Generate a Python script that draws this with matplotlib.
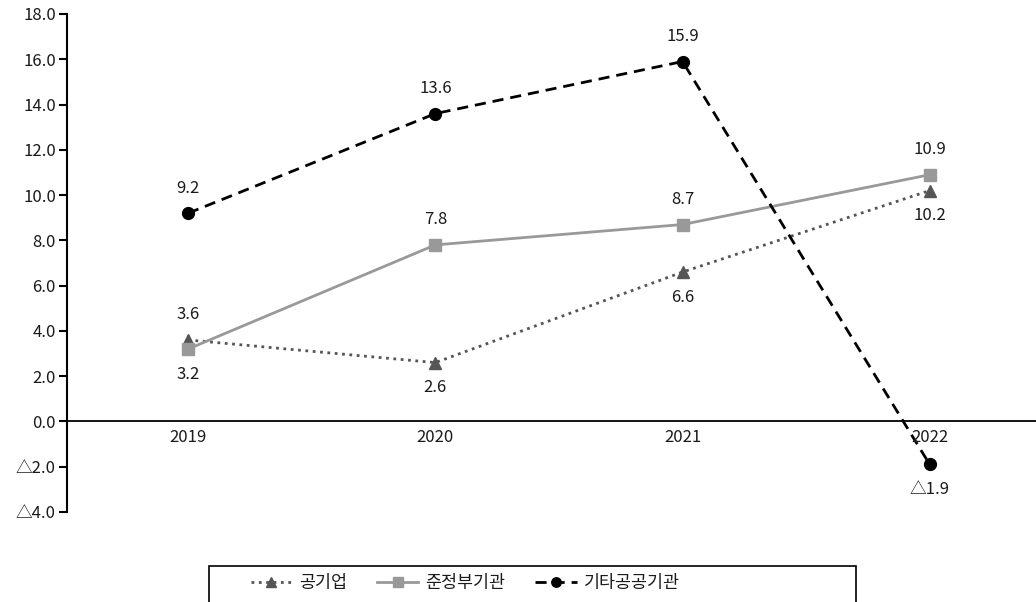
import matplotlib.pyplot as plt
from matplotlib.patches import Rectangle
from matplotlib.ticker import FuncFormatter

plt.rcParams['font.family'] = ['Noto Sans CJK KR', 'DejaVu Sans']

# Data
years = [2019, 2020, 2021, 2022]
public_corp = [3.6, 2.6, 6.6, 10.2]        # 공기업
quasi_gov = [3.2, 7.8, 8.7, 10.9]          # 준정부기관
other_inst = [9.2, 13.6, 15.9, -1.9]       # 기타공공기관
series_names = ['공기업', '준정부기관', '기타공공기관']

# label placement: +1 above, -1 below
pc_pos = [1, -1, -1, -1]
qg_pos = [-1, 1, 1, 1]
oi_pos = [1, 1, 1, -1]

TXT = '#1a1a1a'
FS = 12


def fmt(v):
    if v < 0:
        return f"△{abs(v):.1f}"
    return f"{v:.1f}"


fig = plt.figure(figsize=(10.36, 6.02), dpi=100)
ax = fig.add_axes([67 / 1036, 1 - 512 / 602, 1 - 67 / 1036, (512 - 14) / 602])

l1, = ax.plot(years, public_corp, color='#555555', linestyle=':', linewidth=2,
              marker='^', markersize=9)
l2, = ax.plot(years, quasi_gov, color='#999999', linestyle='-', linewidth=2,
              marker='s', markersize=8.5)
l3, = ax.plot(years, other_inst, color='black', linestyle=(0, (4, 2.5)), linewidth=2,
              marker='o', markersize=8.5)

for vals, pos in [(public_corp, pc_pos), (quasi_gov, qg_pos), (other_inst, oi_pos)]:
    for x, v, p in zip(years, vals, pos):
        ax.annotate(fmt(v), (x, v), xytext=(0, 18 * p), textcoords='offset points',
                    ha='center', va='center', fontsize=FS, color=TXT)

ax.axhline(0, color='black', linewidth=1.3, zorder=1)
ax.set_xlim(2018.51, 2022.43)
ax.set_ylim(-4, 18)
ax.set_yticks(range(-4, 19, 2))
ax.yaxis.set_major_formatter(FuncFormatter(lambda v, p: fmt(v)))
ax.set_xticks([])

for s in ['top', 'right', 'bottom']:
    ax.spines[s].set_visible(False)
ax.spines['left'].set_linewidth(1.5)
ax.tick_params(axis='y', length=6, width=1.5, labelsize=FS, labelcolor=TXT, pad=2)

# year labels just under the zero line
for y in years:
    ax.text(y, -0.35, str(y), ha='center', va='top', fontsize=FS, color=TXT)

# legend box
fig.patches.append(Rectangle((209 / 1036, -0.05), (856 - 209) / 1036, 0.05 + (602 - 566) / 602,
                             transform=fig.transFigure, fill=False, edgecolor='black',
                             linewidth=1.2))
fig.legend([l1, l2, l3], series_names, loc='center left', ncol=3, frameon=False,
           bbox_to_anchor=(235 / 1036, 1 - 583 / 602), fontsize=12.5, handlelength=2.4,
           columnspacing=1.7, handletextpad=0.4, markerscale=0.8, labelcolor=TXT)

fig.savefig('out.png', dpi=100)
